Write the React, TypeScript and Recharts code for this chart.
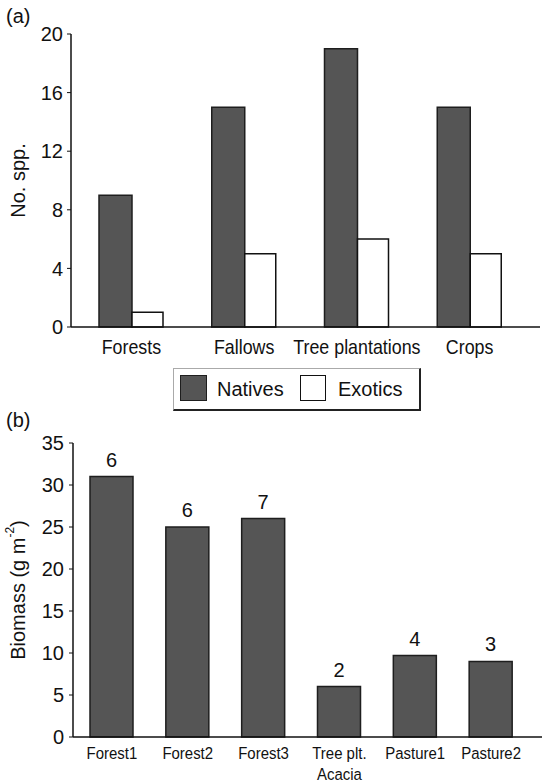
import React from "react";
import { BarChart, Bar, XAxis, YAxis, LabelList } from "recharts";

// ---- Panel (a) data ----
const categoriesA = ["Forests", "Fallows", "Tree plantations", "Crops"];
const nativesA = [9, 15, 19, 15];
const exoticsA = [1, 5, 6, 5];
const ticksA = [0, 4, 8, 12, 16, 20];
const seriesNamesA = ["Natives", "Exotics"];

// ---- Panel (b) data ----
const sitesB = ["Forest1", "Forest2", "Forest3", "Tree plt.\nAcacia", "Pasture1", "Pasture2"];
const biomassB = [31, 25, 26, 6, 9.7, 9];
const sppB = [6, 6, 7, 2, 4, 3];
const ticksB = [0, 5, 10, 15, 20, 25, 30, 35];

const dataA = categoriesA.map((c, i) => ({ cat: c, natives: nativesA[i], exotics: exoticsA[i] }));
const dataB = sitesB.map((s, i) => ({ site: s, biomass: biomassB[i], spp: sppB[i] }));

const SANS = "'Liberation Sans', Arial, Helvetica, sans-serif";
const DARK = "#555555";
const EDGE = "#1e1e1e";

const CatTick = (props: any) => {
  const { x, y, payload, fontSize, squeeze, lineGap, first } = props;
  const lines = String(payload.value).split("\n");
  return (
    <g transform={`translate(${x},${y}) scale(${squeeze},1)`}>
      <text textAnchor="middle" fill="#111" fontFamily={SANS} fontSize={fontSize}>
        {lines.map((l: string, i: number) => (
          <tspan key={i} x={0} dy={i === 0 ? first : lineGap}>
            {l}
          </tspan>
        ))}
      </text>
    </g>
  );
};

const RotLabel = (props: any) => {
  const { viewBox, children } = props;
  const cx = 18;
  const cy = (viewBox?.y ?? 0) + (viewBox?.height ?? 0) / 2;
  return (
    <text
      x={cx}
      y={cy}
      transform={`rotate(-90, ${cx}, ${cy})`}
      textAnchor="middle"
      dominantBaseline="central"
      fill="#111"
      fontSize={20}
      fontFamily={SANS}
    >
      {children}
    </text>
  );
};

export default function App() {
  return (
    <div style={{ position: "absolute", left: 0, top: 0, width: 542, height: 784, background: "#fff", fontFamily: SANS }}>
      {/* Panel (a) */}
      <div style={{ position: "absolute", left: 0, top: 0 }}>
        <BarChart
          width={542}
          height={360}
          data={dataA}
          margin={{ top: 34, right: 2, bottom: 0, left: 0 }}
          barGap={0}
        >
          <XAxis
            dataKey="cat"
            height={33}
            axisLine={{ stroke: "#111", strokeWidth: 1.5 }}
            tickLine={false}
            padding={{ left: 4, right: 14 }}
            tick={<CatTick fontSize={21} squeeze={0.85} lineGap={24} first={19} />}
            interval={0}
          />
          <YAxis
            width={71}
            domain={[0, 20]}
            ticks={ticksA}
            axisLine={{ stroke: "#111", strokeWidth: 1.5 }}
            tickLine={{ stroke: "#111" }}
            tickSize={4}
            tickMargin={4}
            tick={{ fill: "#111", fontSize: 20, fontFamily: SANS }}
            label={(p: any) => <RotLabel viewBox={p.viewBox}>No. spp.</RotLabel>}
          />
          <Bar dataKey="natives" name={seriesNamesA[0]} fill={DARK} stroke={EDGE} strokeWidth={1.5} barSize={33} isAnimationActive={false} />
          <Bar dataKey="exotics" name={seriesNamesA[1]} fill="#ffffff" stroke="#111" strokeWidth={1.5} barSize={31} isAnimationActive={false} />
        </BarChart>
      </div>
      <div style={{ position: "absolute", left: 6, top: 5, fontSize: 20, fontFamily: SANS, color: "#111" }}>(a)</div>

      {/* Legend */}
      <div
        style={{
          position: "absolute",
          left: 173,
          top: 368,
          width: 245,
          height: 40,
          borderTop: "1px solid #aaa",
          borderLeft: "1px solid #aaa",
          borderRight: "2px solid #222",
          borderBottom: "2px solid #222",
          fontFamily: SANS,
          fontSize: 20,
          color: "#111",
        }}
      >
        <div style={{ position: "absolute", left: 6, top: 6, width: 25, height: 24, background: DARK, border: `1.5px solid ${EDGE}` }} />
        <div style={{ position: "absolute", left: 43, top: 8, lineHeight: "24px" }}>{seriesNamesA[0]}</div>
        <div style={{ position: "absolute", left: 126, top: 6, width: 24, height: 24, background: "#fff", border: "1.5px solid #111" }} />
        <div style={{ position: "absolute", left: 164, top: 8, lineHeight: "24px" }}>{seriesNamesA[1]}</div>
      </div>

      {/* Panel (b) */}
      <div style={{ position: "absolute", left: 0, top: 410 }}>
        <BarChart width={542} height={374} data={dataB} margin={{ top: 33, right: 0, bottom: 0, left: 0 }}>
          <XAxis
            dataKey="site"
            height={47}
            axisLine={{ stroke: "#111", strokeWidth: 1.5 }}
            tickLine={false}
            padding={{ left: 1, right: 13 }}
            tick={<CatTick fontSize={17} squeeze={0.88} lineGap={21} first={14} />}
            interval={0}
          />
          <YAxis
            width={73}
            domain={[0, 35]}
            ticks={ticksB}
            axisLine={{ stroke: "#111", strokeWidth: 1.5 }}
            tickLine={{ stroke: "#111" }}
            tickSize={4}
            tickMargin={5}
            tick={{ fill: "#111", fontSize: 20, fontFamily: SANS }}
            label={(p: any) => (
              <RotLabel viewBox={p.viewBox}>
                Biomass (g m
                <tspan fontSize={12} dy={-8}>-2</tspan>
                <tspan dy={8}>)</tspan>
              </RotLabel>
            )}
          />
          <Bar dataKey="biomass" fill={DARK} stroke={EDGE} strokeWidth={1.5} barSize={43} isAnimationActive={false}>
            <LabelList dataKey="spp" position="top" offset={10} style={{ fill: "#111", fontSize: 20, fontFamily: SANS }} />
          </Bar>
        </BarChart>
      </div>
      <div style={{ position: "absolute", left: 6, top: 409, fontSize: 20, fontFamily: SANS, color: "#111" }}>(b)</div>
    </div>
  );
}
